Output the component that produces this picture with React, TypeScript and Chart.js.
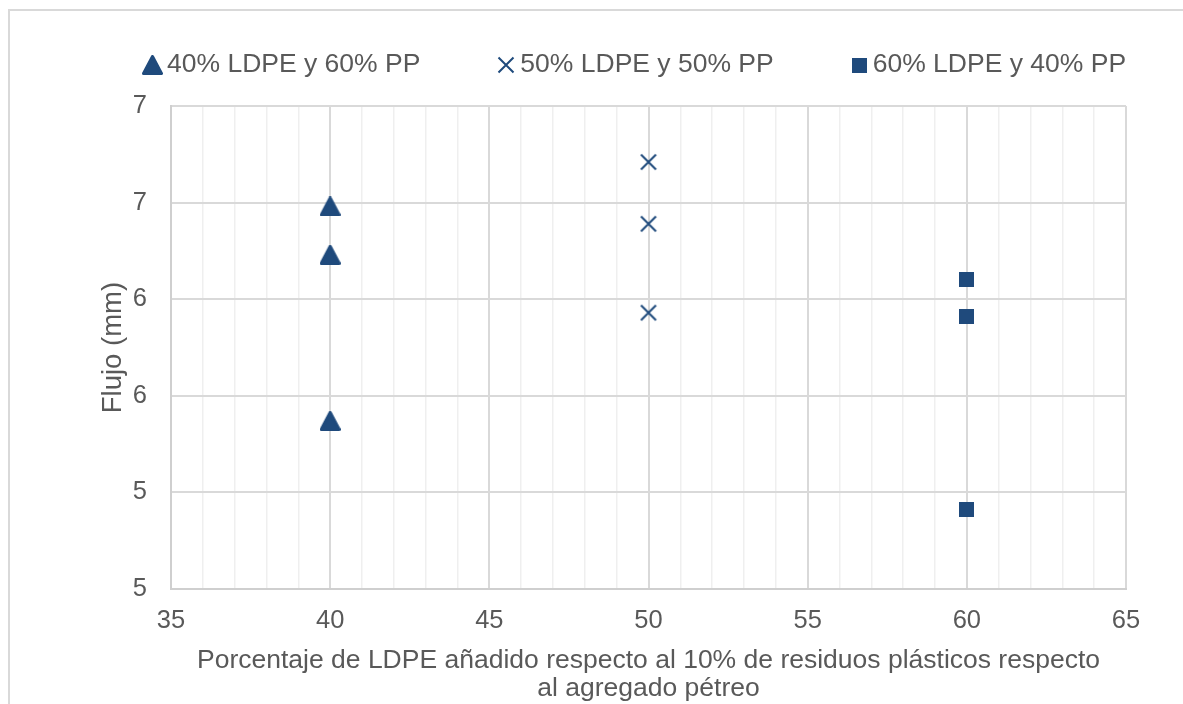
import React, { useEffect, useRef } from 'react';
import { Chart, registerables } from 'chart.js';

Chart.register(...registerables);

// ---- data ----
const seriesNames = ['40% LDPE y 60% PP', '50% LDPE y 50% PP', '60% LDPE y 40% PP'];
const xValuesA = [40, 40, 40];
const seriesA = [6.48, 6.23, 5.37];
const xValuesB = [50, 50, 50];
const seriesB = [6.71, 6.39, 5.93];
const xValuesC = [60, 60, 60];
const seriesC = [6.1, 5.91, 4.91];

const xTickValues = [35, 40, 45, 50, 55, 60, 65];
const xTickLabels = ['35', '40', '45', '50', '55', '60', '65'];
const yTickValues = [4.5, 5, 5.5, 6, 6.5, 7];
const yTickLabels = ['5', '5', '6', '6', '7', '7'];

const xTitle = ['Porcentaje de LDPE añadido respecto al 10% de residuos plásticos respecto', 'al agregado pétreo'];
const yTitle = 'Flujo (mm)';

// ---- style ----
const FONT = "'Liberation Sans', Arial, sans-serif";
const FONT_SIZE = 26.5;
const TICK_SIZE = 25.5;
const TEXT = '#595959';
const MARK = '#1F4A7C';
const GRID_MAJOR = '#d9d9d9';
const GRID_MINOR = '#efefef';

function makeTriangle(): HTMLCanvasElement {
  const c = document.createElement('canvas');
  c.width = 21; c.height = 20;
  const g = c.getContext('2d')!;
  g.fillStyle = MARK; g.strokeStyle = MARK; g.lineWidth = 3; g.lineJoin = 'round';
  g.beginPath();
  g.moveTo(10.5, 1.5); g.lineTo(19.5, 18.5); g.lineTo(1.5, 18.5); g.closePath();
  g.fill(); g.stroke();
  return c;
}
function makeCross(): HTMLCanvasElement {
  const c = document.createElement('canvas');
  c.width = 18; c.height = 18;
  const g = c.getContext('2d')!;
  g.strokeStyle = MARK; g.lineWidth = 2;
  g.beginPath();
  g.moveTo(1.5, 1.5); g.lineTo(16.5, 16.5);
  g.moveTo(16.5, 1.5); g.lineTo(1.5, 16.5);
  g.stroke();
  return c;
}
function makeSquare(): HTMLCanvasElement {
  const c = document.createElement('canvas');
  c.width = 15; c.height = 15;
  const g = c.getContext('2d')!;
  g.fillStyle = MARK;
  g.fillRect(0, 0, 15, 15);
  return c;
}

export default function App() {
  const ref = useRef<HTMLCanvasElement>(null);

  useEffect(() => {
    const canvas = ref.current!;
    const markers = [makeTriangle(), makeCross(), makeSquare()];
    const textGaps = [15, 14, 13];

    const legendPlugin = {
      id: 'customLegend',
      afterDraw(chart: any) {
        const ctx = chart.ctx as CanvasRenderingContext2D;
        ctx.save();
        ctx.font = `${FONT_SIZE}px ${FONT}`;
        ctx.fillStyle = TEXT;
        ctx.textBaseline = 'middle';
        ctx.textAlign = 'left';
        let x = chart.chartArea.left - 19;
        const y = 65;
        seriesNames.forEach((name, i) => {
          const m = markers[i];
          ctx.drawImage(m, Math.round(x - m.width / 2), Math.round(y - m.height / 2));
          const tx = x + textGaps[i];
          ctx.fillText(name, tx, y);
          x = tx + ctx.measureText(name).width + 86;
        });
        ctx.restore();
      },
    };

    const mk = (xs: number[], ys: number[]) => xs.map((x, i) => ({ x, y: ys[i] }));

    const chart = new Chart(canvas, {
      type: 'scatter',
      data: {
        datasets: [
          { label: seriesNames[0], data: mk(xValuesA, seriesA), pointStyle: markers[0] as any, pointRadius: 10, backgroundColor: MARK, borderColor: MARK },
          { label: seriesNames[1], data: mk(xValuesB, seriesB), pointStyle: markers[1] as any, pointRadius: 10, backgroundColor: MARK, borderColor: MARK },
          { label: seriesNames[2], data: mk(xValuesC, seriesC), pointStyle: markers[2] as any, pointRadius: 10, backgroundColor: MARK, borderColor: MARK },
        ],
      },
      options: {
        responsive: false,
        animation: false,
        devicePixelRatio: 1,
        layout: { padding: { top: 106, right: 57, bottom: 0, left: 0 } },
        plugins: {
          legend: { display: false },
          tooltip: { enabled: false },
        },
        scales: {
          x: {
            type: 'linear',
            min: xTickValues[0],
            max: xTickValues[xTickValues.length - 1],
            afterBuildTicks: (scale: any) => {
              const ticks = [];
              for (let v = scale.min; v <= scale.max; v += 1) ticks.push({ value: v });
              scale.ticks = ticks;
            },
            afterFit: (scale: any) => { scale.height = 115; },
            ticks: {
              autoSkip: false,
              maxRotation: 0,
              padding: 17,
              color: TEXT,
              font: { family: FONT, size: TICK_SIZE },
              callback: (v: any) => {
                const idx = xTickValues.indexOf(Number(v));
                return idx >= 0 ? xTickLabels[idx] : '';
              },
            },
            grid: {
              drawTicks: false,
              color: (c: any) => (xTickValues.includes(c.tick?.value) ? GRID_MAJOR : GRID_MINOR),
              lineWidth: (c: any) => (xTickValues.includes(c.tick?.value) ? 2 : 1.5),
            },
            border: { color: '#cfcfcf', width: 2 },
            title: {
              display: true,
              text: xTitle,
              color: TEXT,
              font: { family: FONT, size: FONT_SIZE, lineHeight: 1.06 },
              padding: { top: 0, bottom: 1 },
            },
          },
          y: {
            type: 'linear',
            min: yTickValues[0],
            max: yTickValues[yTickValues.length - 1],
            afterBuildTicks: (scale: any) => {
              scale.ticks = yTickValues.map((v) => ({ value: v }));
            },
            afterFit: (scale: any) => { scale.width = 171; },
            ticks: {
              padding: 24,
              color: TEXT,
              font: { family: FONT, size: TICK_SIZE },
              callback: (v: any) => {
                const idx = yTickValues.findIndex((t) => Math.abs(t - Number(v)) < 1e-9);
                return idx >= 0 ? yTickLabels[idx] : '';
              },
            },
            grid: { drawTicks: false, color: GRID_MAJOR, lineWidth: 2 },
            border: { color: '#cfcfcf', width: 2 },
            title: {
              display: true,
              text: yTitle,
              color: TEXT,
              font: { family: FONT, size: 27.5, lineHeight: 1.2 },
              padding: { top: 97, bottom: 0 },
            },
          },
        },
      },
      plugins: [legendPlugin],
    });

    return () => chart.destroy();
  }, []);

  return (
    <div style={{ position: 'fixed', left: 0, top: 0, width: 1183, height: 704, overflow: 'hidden', background: '#ffffff' }}>
      <div
        style={{
          position: 'absolute',
          left: 8,
          top: 9,
          width: 1400,
          height: 900,
          border: '2px solid #d9d9d9',
          boxSizing: 'border-box',
        }}
      />
      <canvas ref={ref} width={1183} height={704} style={{ position: 'absolute', left: 0, top: 0, width: 1183, height: 704 }} />
    </div>
  );
}
